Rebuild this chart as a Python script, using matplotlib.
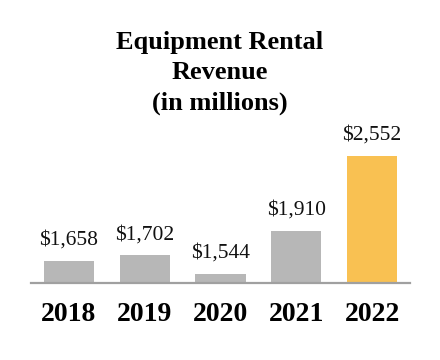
import matplotlib
matplotlib.use("Agg")
import matplotlib.pyplot as plt

years = ["2018", "2019", "2020", "2021", "2022"]
revenue = [1658, 1702, 1544, 1910, 2552]
labels = ["$1,658", "$1,702", "$1,544", "$1,910", "$2,552"]
colors = ["#b7b7b7", "#b7b7b7", "#b7b7b7", "#b7b7b7", "#f9c152"]

plt.rcParams['font.family'] = ['Liberation Serif', 'DejaVu Serif']

fig = plt.figure(figsize=(4.4, 3.6), dpi=100)
ax = fig.add_axes([31/440, 77/360, 379/440, 263/360])
x = list(range(len(years)))
ax.bar(x, revenue, width=0.66, color=colors, zorder=2)
ax.set_xlim(-0.5, 4.5)
ybot = 1467
ax.set_ylim(ybot, ybot + 263 * 8.52)
for xi, v, lab in zip(x, revenue, labels):
    ax.annotate(lab, (xi, v), xytext=(0, 8), textcoords='offset points',
                ha='center', va='bottom', fontsize=15.5, color='#111111')
for s in ['top', 'right', 'left']:
    ax.spines[s].set_visible(False)
ax.spines['bottom'].set_color('#a0a0a0')
ax.spines['bottom'].set_linewidth(1.6)
ax.set_yticks([])
ax.set_xticks(x)
ax.set_xticklabels(years, fontsize=20, fontweight='bold')
ax.tick_params(axis='x', length=0, pad=14)
fig.text(0.5, 1 - 31/360, "Equipment Rental\nRevenue\n(in millions)", ha='center', va='top',
         fontsize=19, fontweight='bold', linespacing=1.4)
fig.savefig("out.png", dpi=100)
